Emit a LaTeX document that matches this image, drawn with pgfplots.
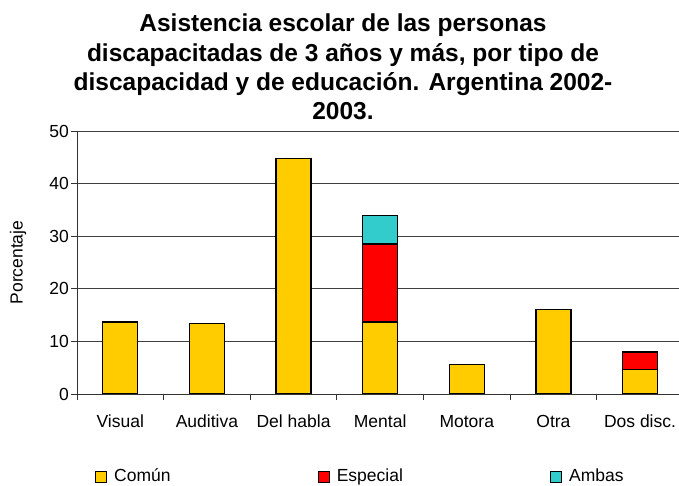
\documentclass[border=0pt]{standalone}
\usepackage{pgfplots}
\pgfplotsset{compat=1.18}
\usepackage{fontspec}
\setmainfont{Liberation Sans}
\definecolor{comun}{HTML}{FFCC00}
\definecolor{especial}{HTML}{FF0000}
\definecolor{ambas}{HTML}{33CCCC}
\begin{document}
\begin{tikzpicture}
\useasboundingbox (0,0) rectangle (679bp,486bp);
\begin{axis}[
  at={(77bp,92bp)}, anchor=south west,
  scale only axis, width=602bp, height=263bp,
  ybar stacked, bar width=35bp,
  xmin=-0.5, xmax=6.45, ymin=0, ymax=50,
  axis lines*=left,
  axis line style={black!80, line width=0.9bp},
  xtick={0,...,6},
  xticklabels={Visual,Auditiva,Del habla,Mental,Motora,Otra,Dos disc.},
  minor xtick={-0.5,0.5,1.5,2.5,3.5,4.5,5.5},
  major x tick style={draw=none},
  minor tick length=6bp,
  ytick={0,10,...,50},
  major tick length=6bp,
  tick align=outside,
  tick style={black!80, line width=0.8bp},
  ymajorgrids,
  grid style={black!75, line width=0.8bp},
  /pgf/number format/assume math mode=true,
  tick label style={font=\fontsize{17.5bp}{20bp}\selectfont, text=black},
  xticklabel style={anchor=base, inner sep=0pt, yshift=-27bp},
  yticklabel style={anchor=east, inner sep=0pt, xshift=-2bp},
  ylabel={Porcentaje},
  every axis y label/.style={at={(axis description cs:-0.098,0.5)}, rotate=90, anchor=center, font=\fontsize{17.5bp}{20bp}\selectfont},
  legend columns=3,
  legend style={draw=none, fill=none, inner sep=0pt, outer sep=0pt,
    at={(axis description cs:0.0299,-0.3373)}, anchor=south west,
    font=\fontsize{17.5bp}{20bp}\selectfont,
    nodes={inner sep=0pt, anchor=base west},
    /tikz/every even column/.append style={column sep=147bp},
    /tikz/every odd column/.append style={column sep=7bp}},
  legend image code/.code={\draw[#1, line width=1.2bp] (0bp,-1bp) rectangle (11bp,10bp);},
  every axis plot/.append style={draw=black, line width=1.2bp},
]
\addplot[fill=comun] coordinates {(0,13.7) (1,13.4) (2,44.8) (3,13.7) (4,5.6) (5,16.1) (6,4.6)};
\addplot[fill=especial] coordinates {(0,0) (1,0) (2,0) (3,14.8) (4,0) (5,0) (6,3.4)};
\addplot[fill=ambas] coordinates {(0,0) (1,0) (2,0) (3,5.5) (4,0) (5,0) (6,0)};
\legend{Común,Especial,Ambas}
\end{axis}
\begin{scope}[font=\fontsize{24.5bp}{29bp}\selectfont\bfseries]
\node[anchor=base, inner sep=0pt] at (343bp,454bp) {Asistencia escolar de las personas};
\node[anchor=base, inner sep=0pt] at (343bp,424.7bp) {discapacitadas de 3 años y más, por tipo de};
\node[anchor=base, inner sep=0pt] at (343bp,395.4bp) {discapacidad y de educación. Argentina 2002-};
\node[anchor=base, inner sep=0pt] at (343bp,366bp) {2003.};
\end{scope}
\end{tikzpicture}
\end{document}
